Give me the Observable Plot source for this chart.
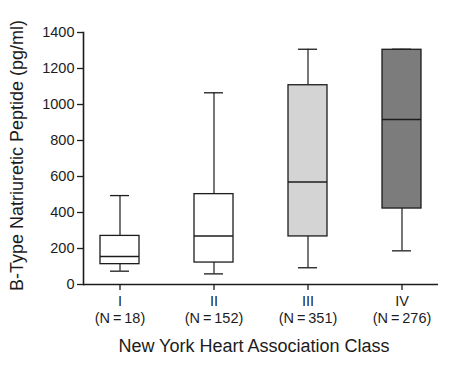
<!DOCTYPE html>
<html>
<head>
<meta charset="utf-8">
<script src="https://cdn.jsdelivr.net/npm/d3@7"></script>
<script src="https://cdn.jsdelivr.net/npm/@observablehq/plot@0.6"></script>
<style>
  html, body { margin: 0; padding: 0; background: #fff; }
  svg { display: block; }
</style>
</head>
<body>
<div id="chart"></div>
<script>
const classes = ["I", "II", "III", "IV"];
const counts = [18, 152, 351, 276];
const whiskerLow = [74, 59, 93, 187];
const q1 = [113, 122, 267, 422];
const medians = [155, 270, 570, 917];
const q3 = [270, 502, 1107, 1304];
const whiskerHigh = [494, 1065, 1307, 1307];
const yTicks = [0, 200, 400, 600, 800, 1000, 1200, 1400];
const boxFills = ["#ffffff", "#ffffff", "#d4d4d4", "#7c7c7c"];

const data = classes.map((c, i) => ({
  cls: c, n: counts[i], lo: whiskerLow[i], q1: q1[i], med: medians[i], q3: q3[i], hi: whiskerHigh[i]
}));
const labelOf = new Map(data.map(d => [d.cls, `${d.cls}\n(N\u2009=\u2009${d.n})`]));

const ink = "#1c1c1c";
const chart = Plot.plot({
  width: 450,
  height: 365,
  marginLeft: 83,
  marginRight: 12,
  marginTop: 32,
  marginBottom: 81,
  style: { fontFamily: "Arial, 'Liberation Sans', Helvetica, sans-serif", fontSize: "14px", color: ink, background: "#fff" },
  x: { domain: classes, paddingInner: 0.588, paddingOuter: 0.17, label: null },
  y: { domain: [0, 1400], label: null },
  color: { domain: classes, range: boxFills },
  marks: [
    Plot.frame({ anchor: "left", stroke: ink, strokeWidth: 1.6 }),
    Plot.axisY({ ticks: yTicks, tickFormat: d => String(d), tickSize: 6, tickPadding: 3, fontSize: 14.5, stroke: ink, strokeWidth: 1.3, label: null }),
    Plot.axisX({ tickSize: 6, tickPadding: 4, fontSize: 14.5, lineHeight: 1.15, tickFormat: d => labelOf.get(d), stroke: ink, strokeWidth: 1.3, fill: ink, label: null }),
    Plot.ruleY([0], { stroke: ink, strokeWidth: 1.6 }),
    Plot.ruleX(data, { x: "cls", y1: "lo", y2: "q1", stroke: ink, strokeWidth: 1.2 }),
    Plot.ruleX(data, { x: "cls", y1: "q3", y2: "hi", stroke: ink, strokeWidth: 1.2 }),
    Plot.tickY(data, { x: "cls", y: "lo", stroke: ink, strokeWidth: 1.3, insetLeft: 10, insetRight: 10 }),
    Plot.tickY(data, { x: "cls", y: "hi", stroke: ink, strokeWidth: 1.3, insetLeft: 10, insetRight: 10 }),
    Plot.barY(data, { x: "cls", y1: "q1", y2: "q3", fill: "cls", stroke: ink, strokeWidth: 1.3 }),
    Plot.tickY(data, { x: "cls", y: "med", stroke: ink, strokeWidth: 1.5 }),
    Plot.text(["B-Type Natriuretic Peptide (pg/ml)"], { frameAnchor: "left", textAnchor: "middle", lineAnchor: "middle", rotate: -90, dx: -66, dy: -3, fontSize: 18, fill: ink }),
    Plot.text(["New York Heart Association Class"], { frameAnchor: "bottom", dx: -7, dy: 67, fontSize: 18, fill: ink })
  ]
});
document.getElementById("chart").append(chart);
</script>
</body>
</html>
